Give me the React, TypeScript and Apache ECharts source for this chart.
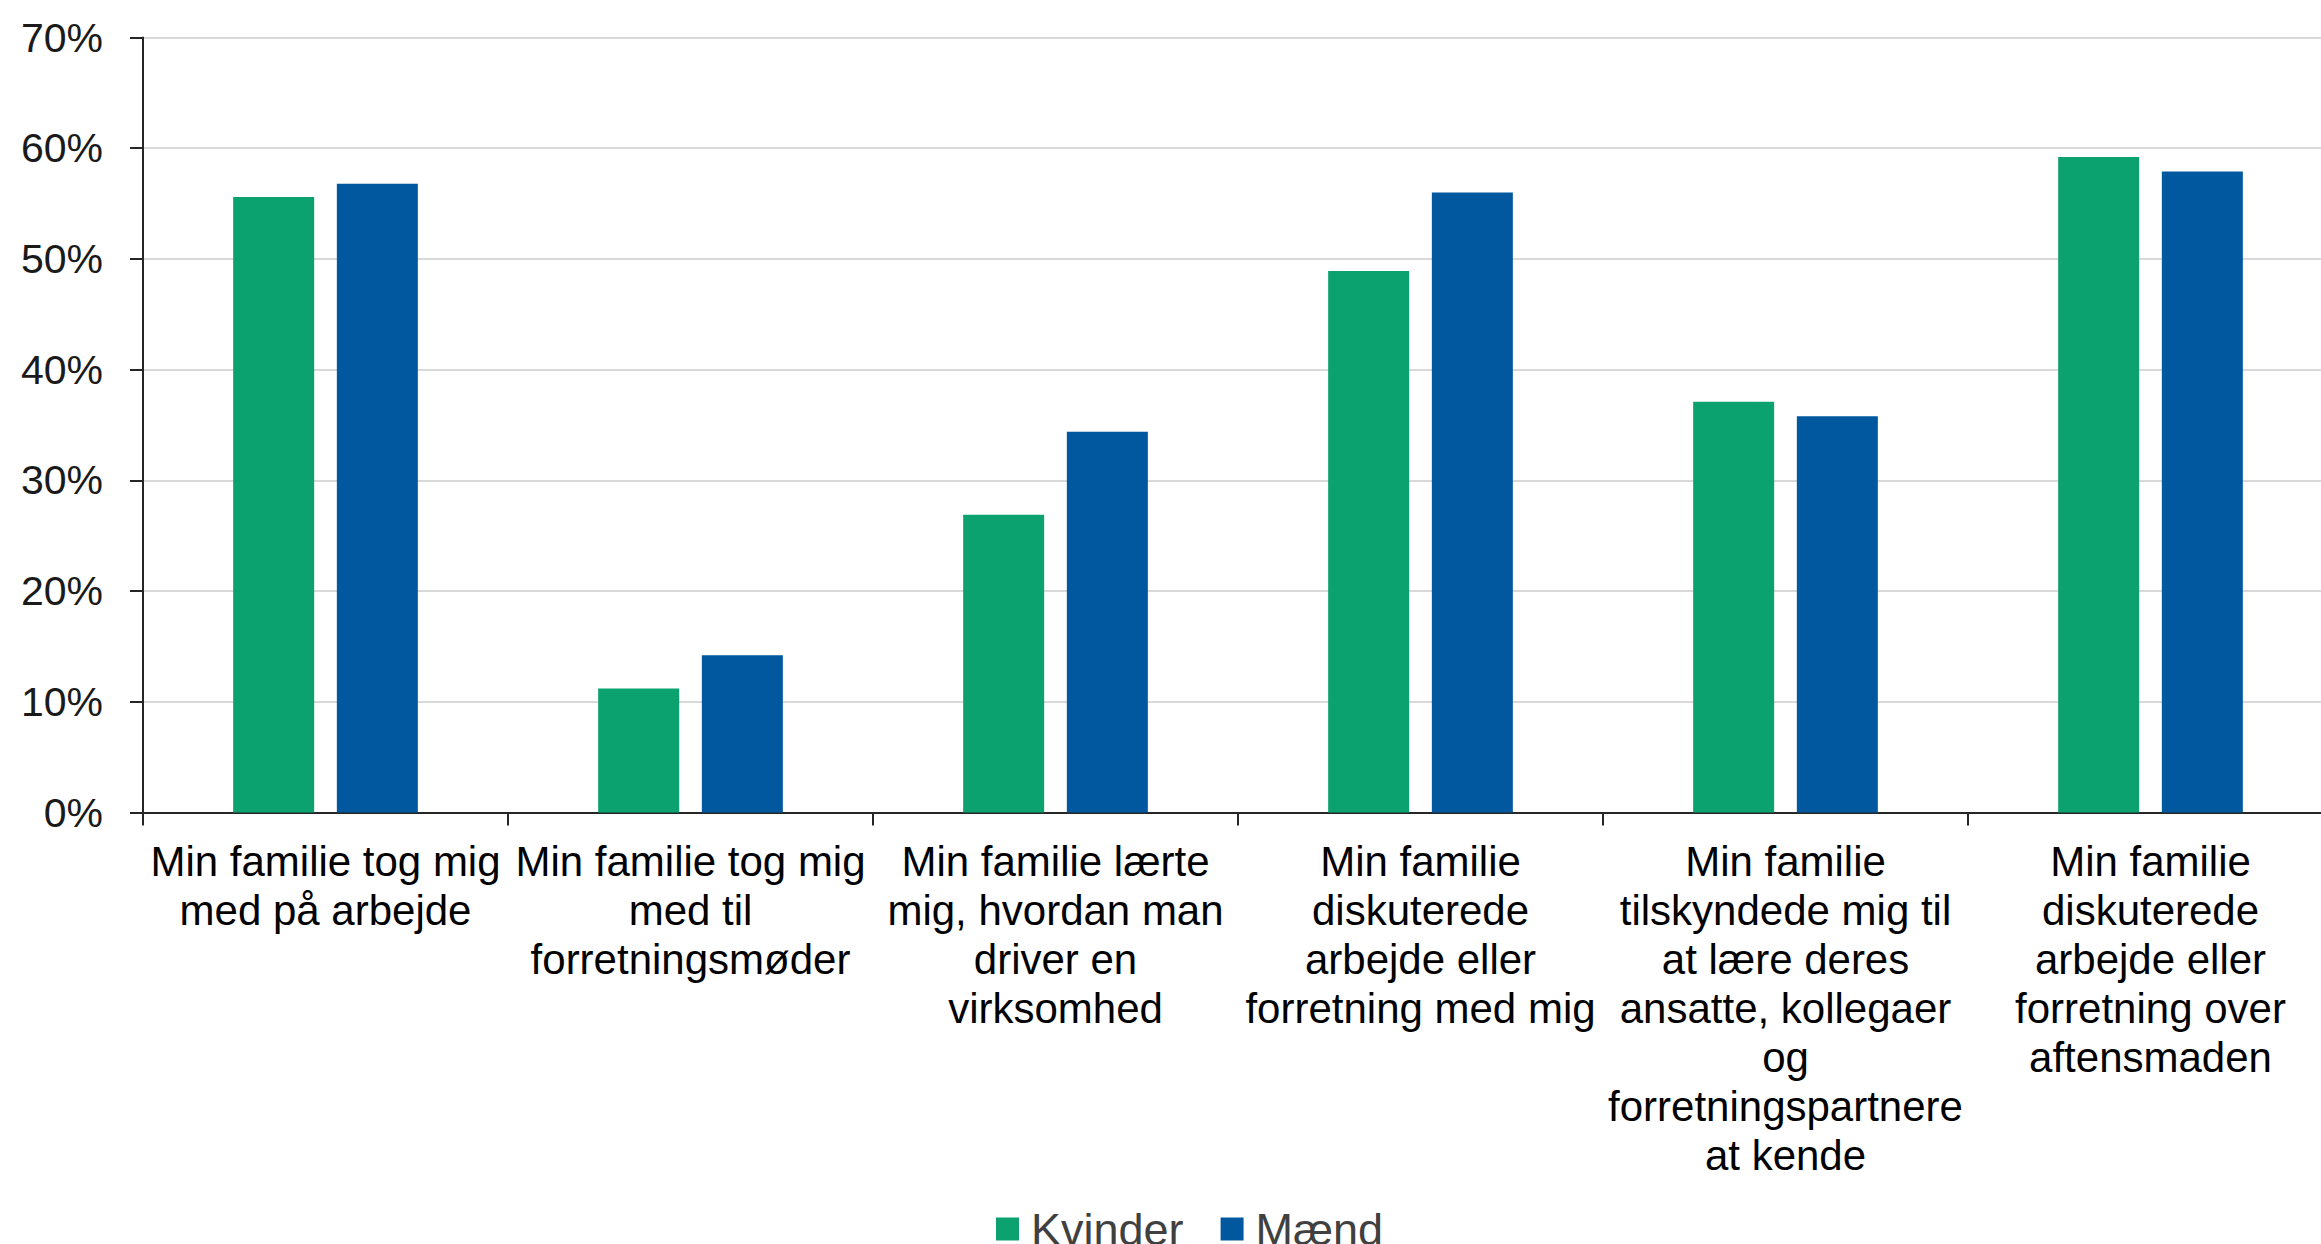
import React, { useEffect, useRef } from "react";
import * as echarts from "echarts";

const categories = [
  "Min familie tog mig\nmed på arbejde",
  "Min familie tog mig\nmed til\nforretningsmøder",
  "Min familie lærte\nmig, hvordan man\ndriver en\nvirksomhed",
  "Min familie\ndiskuterede\narbejde eller\nforretning med mig",
  "Min familie\ntilskyndede mig til\nat lære deres\nansatte, kollegaer\nog\nforretningspartnere\nat kende",
  "Min familie\ndiskuterede\narbejde eller\nforretning over\naftensmaden",
];
const kvinder = [55.6, 11.2, 26.9, 48.9, 37.1, 59.2];
const maend = [56.8, 14.2, 34.4, 56.0, 35.8, 57.9];
const seriesNames = ["Kvinder", "Mænd"];
const yMin = 0;
const yMax = 70;
const yStep = 10;

export default function App() {
  const ref = useRef<HTMLDivElement>(null);
  useEffect(() => {
    if (!ref.current) return;
    const chart = echarts.init(ref.current, undefined, { renderer: "svg" });
    const font = "Liberation Sans, Arial, sans-serif";
    chart.setOption({
      animation: false,
      backgroundColor: "#ffffff",
      textStyle: { fontFamily: font },
      grid: {
        left: 143,
        top: 37.5,
        width: 2190,
        height: 775,
        containLabel: false,
        outerBoundsMode: "none",
      },
      legend: {
        left: 996,
        top: 1206,
        padding: 0,
        itemWidth: 23,
        itemHeight: 23,
        itemGap: 37,
        icon: "rect",
        textStyle: {
          fontSize: 45,
          color: "#404040",
          fontFamily: font,
          lineHeight: 46,
          padding: [0, 0, 0, 7],
        },
        data: seriesNames,
      },
      xAxis: {
        type: "category",
        data: categories,
        boundaryGap: true,
        axisLine: { show: true, lineStyle: { color: "#262626", width: 2 } },
        axisTick: {
          show: true,
          length: 13,
          lineStyle: { color: "#262626", width: 2 },
        },
        axisLabel: {
          interval: 0,
          margin: 24,
          fontSize: 42,
          lineHeight: 49,
          color: "#000000",
          fontFamily: font,
          align: "center",
        },
        splitLine: { show: false },
      },
      yAxis: {
        type: "value",
        min: yMin,
        max: yMax,
        interval: yStep,
        axisLine: { show: true, lineStyle: { color: "#262626", width: 2 } },
        axisTick: {
          show: true,
          length: 13,
          lineStyle: { color: "#262626", width: 2 },
        },
        axisLabel: {
          margin: 40,
          fontSize: 41,
          color: "#1a1a1a",
          fontFamily: font,
          formatter: "{value}%",
        },
        splitLine: { show: true, lineStyle: { color: "#d9d9d9", width: 2 } },
      },
      series: [
        {
          name: seriesNames[0],
          type: "bar",
          data: kvinder,
          barWidth: 81,
          barGap: "28%",
          itemStyle: { color: "#0ba270" },
        },
        {
          name: seriesNames[1],
          type: "bar",
          data: maend,
          barWidth: 81,
          barGap: "28%",
          itemStyle: { color: "#02589e" },
        },
      ],
    });
    return () => chart.dispose();
  }, []);
  return (
    <div
      ref={ref}
      style={{
        position: "fixed",
        left: 0,
        top: 0,
        width: "2321px",
        height: "1244px",
        background: "#fff",
      }}
    />
  );
}
